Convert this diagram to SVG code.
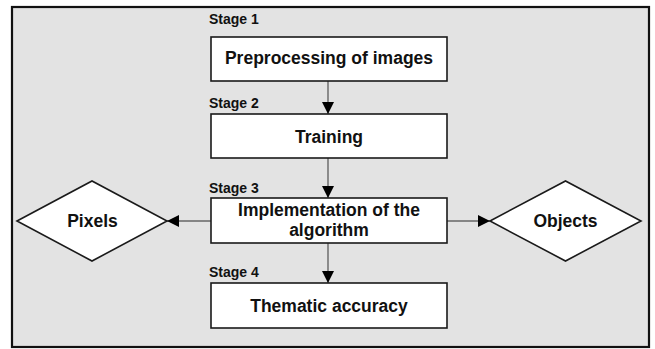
<svg xmlns="http://www.w3.org/2000/svg" width="655" height="349" viewBox="0 0 655 349">
<style>
.box{fill:#fff;stroke:#1a1a1a;stroke-width:1.6}
.t{font-family:"Liberation Sans",Arial,sans-serif;font-weight:bold;font-size:17.5px;fill:#111;text-anchor:middle}
.s{font-family:"Liberation Sans",Arial,sans-serif;font-weight:bold;font-size:14px;fill:#111}
.c{stroke:#666;stroke-width:1.4;fill:none;marker-end:url(#ah)}
</style>
<defs>
<marker id="ah" markerUnits="userSpaceOnUse" markerWidth="14" markerHeight="12" refX="12" refY="6" orient="auto">
<path d="M0,0 L12,6 L0,12 Z" fill="#000"/>
</marker>
</defs>
<rect width="655" height="349" fill="#fff"/>
<rect id="frame" x="12" y="7" width="637" height="340" fill="#e3e3e3" stroke="#111" stroke-width="2.2"/>
<g id="connectors">
<line class="c" x1="328" y1="81" x2="328" y2="114"/>
<line class="c" x1="328" y1="158" x2="328" y2="198"/>
<line class="c" x1="328" y1="243" x2="328" y2="283"/>
<line class="c" x1="211" y1="221" x2="167" y2="221"/>
<line class="c" x1="447" y1="221" x2="490" y2="221"/>
</g>
<g id="stage1">
<text class="s" x="209" y="24">Stage 1</text>
<rect class="box" x="211" y="37" width="236" height="44"/>
<text class="t" x="329" y="64">Preprocessing of images</text>
</g>
<g id="stage2">
<text class="s" x="209" y="108">Stage 2</text>
<rect class="box" x="211" y="114" width="236" height="44"/>
<text class="t" x="329" y="143">Training</text>
</g>
<g id="stage3">
<text class="s" x="209" y="193">Stage 3</text>
<rect class="box" x="211" y="198" width="236" height="45"/>
<text class="t" x="329" y="216">Implementation of the</text>
<text class="t" x="329" y="236">algorithm</text>
</g>
<g id="stage4">
<text class="s" x="209" y="277">Stage 4</text>
<rect class="box" x="211" y="283" width="236" height="45"/>
<text class="t" x="329" y="312">Thematic accuracy</text>
</g>
<g id="pixels">
<polygon class="box" points="17,221 92,181 167,221 92,261"/>
<text class="t" x="92.5" y="227">Pixels</text>
</g>
<g id="objects">
<polygon class="box" points="490,221 565.5,181 641,221 565.5,261"/>
<text class="t" x="565.5" y="227">Objects</text>
</g>
</svg>
